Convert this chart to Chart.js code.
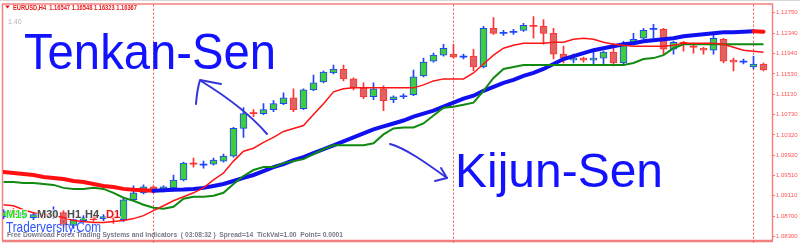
<!DOCTYPE html>
<html><head><meta charset="utf-8">
<script src="https://cdn.jsdelivr.net/npm/chart.js@4.4.1/dist/chart.umd.min.js"></script>
<style>html,body{margin:0;padding:0;background:#fff;overflow:hidden}canvas{display:block}</style>
</head><body>
<canvas id="c" width="800" height="244" style="width:800px;height:244px"></canvas>
<script>
// ---- data (EURUSD H4 bars) ----
const barIndex = Array.from({length: 77}, (_, i) => i);
const opens = [1.08697,1.08815,1.08717,1.08678,1.08756,1.08717,1.08776,1.08521,1.08619,1.08697,
  1.08658,1.08697,1.08639,1.09032,1.09170,1.09287,1.09209,1.09268,1.09425,1.09760,
  1.09720,1.09740,1.09799,1.09898,1.10448,1.10763,1.10743,1.10822,1.10940,1.11058,
  1.10842,1.11215,1.11372,1.11550,1.11629,1.11432,1.11254,1.11078,1.11235,1.11019,
  1.11078,1.11117,1.11491,1.11786,1.11904,1.11924,1.11865,1.11885,1.11668,1.12435,
  1.12337,1.12356,1.12396,1.12494,1.12475,1.12337,1.11924,1.11806,1.11845,1.11806,
  1.11845,1.11963,1.11747,1.12159,1.12238,1.12416,1.12416,1.12021,1.12159,1.12081,
  1.12041,1.12002,1.12219,1.11806,1.11766,1.11668,1.11727];
const highs = [1.08835,1.08855,1.08815,1.08776,1.08796,1.08894,1.08815,1.08678,1.08717,1.08737,
  1.08737,1.08756,1.09072,1.09307,1.09327,1.09307,1.09307,1.09524,1.09780,1.09859,
  1.09799,1.09859,1.09937,1.10468,1.10861,1.10822,1.10940,1.10999,1.11157,1.11235,
  1.11235,1.11510,1.11589,1.11707,1.11707,1.11451,1.11353,1.11353,1.11294,1.11098,
  1.11137,1.11609,1.11845,1.11944,1.12120,1.12120,1.11924,1.12021,1.12475,1.12651,
  1.12396,1.12416,1.12534,1.12671,1.12612,1.12435,1.12081,1.11924,1.11865,1.11983,
  1.11983,1.12140,1.12179,1.12337,1.12435,1.12514,1.12435,1.12179,1.12179,1.12120,
  1.12061,1.12317,1.12238,1.11845,1.11826,1.11885,1.11747];
const lows = [1.08658,1.08678,1.08658,1.08639,1.08658,1.08658,1.08482,1.08462,1.08580,1.08600,
  1.08619,1.08560,1.08600,1.09012,1.09150,1.09170,1.09190,1.09248,1.09405,1.09681,
  1.09661,1.09720,1.09780,1.09878,1.10271,1.10684,1.10723,1.10782,1.10920,1.10782,
  1.10822,1.11196,1.11353,1.11530,1.11392,1.11215,1.11039,1.11019,1.10802,1.10960,
  1.11039,1.11098,1.11471,1.11766,1.11885,1.11845,1.11826,1.11589,1.11648,1.12317,
  1.12297,1.12317,1.12376,1.12238,1.12120,1.11826,1.11747,1.11747,1.11766,1.11727,
  1.11727,1.11688,1.11727,1.12120,1.12219,1.12238,1.11924,1.11924,1.11983,1.11944,
  1.11924,1.11924,1.11747,1.11589,1.11727,1.11629,1.11589];
const closes = [1.08796,1.08737,1.08776,1.08737,1.08697,1.08796,1.08541,1.08639,1.08678,1.08639,
  1.08697,1.08658,1.09032,1.09170,1.09287,1.09190,1.09287,1.09425,1.09760,1.09740,
  1.09740,1.09819,1.09898,1.10448,1.10743,1.10743,1.10822,1.10940,1.11058,1.10822,
  1.11215,1.11353,1.11569,1.11629,1.11432,1.11254,1.11078,1.11235,1.10999,1.11078,
  1.11098,1.11471,1.11766,1.11904,1.12041,1.11865,1.11885,1.11668,1.12435,1.12337,
  1.12356,1.12376,1.12494,1.12475,1.12337,1.11924,1.11845,1.11845,1.11806,1.11845,
  1.11963,1.11747,1.12140,1.12219,1.12396,1.12435,1.12021,1.12159,1.12140,1.12061,
  1.12002,1.12238,1.11786,1.11766,1.11786,1.11727,1.11609];
const tenkanSen = [1.08934,1.08914,1.08835,1.08776,1.08737,1.08717,1.08678,1.08619,1.08600,1.08580,
  1.08580,1.08600,1.08619,1.08658,1.08717,1.08815,1.08914,1.09012,1.09091,1.09170,
  1.09268,1.09425,1.09563,1.09799,1.09996,1.10055,1.10173,1.10271,1.10389,1.10448,
  1.10507,1.10723,1.10940,1.11176,1.11235,1.11254,1.11254,1.11254,1.11254,1.11254,
  1.11254,1.11254,1.11313,1.11392,1.11432,1.11432,1.11432,1.11550,1.11727,1.11904,
  1.12041,1.12100,1.12140,1.12140,1.12140,1.12159,1.12159,1.12219,1.12238,1.12219,
  1.12159,1.12120,1.12100,1.12081,1.12081,1.12081,1.12081,1.12100,1.12140,1.12140,
  1.12140,1.12140,1.12120,1.12061,1.12002,1.11983,1.11963];
const kijunSen = [1.09386,1.09386,1.09366,1.09366,1.09346,1.09327,1.09268,1.09248,1.09248,1.09268,
  1.09248,1.09170,1.09072,1.09012,1.08934,1.08874,1.08855,1.08894,1.09052,1.09091,
  1.09091,1.09111,1.09170,1.09346,1.09504,1.09622,1.09681,1.09681,1.09760,1.09799,
  1.09839,1.09937,1.10035,1.10114,1.10114,1.10114,1.10114,1.10153,1.10330,1.10448,
  1.10468,1.10468,1.10547,1.10704,1.10861,1.10881,1.10920,1.10960,1.11196,1.11451,
  1.11629,1.11668,1.11707,1.11707,1.11707,1.11707,1.11707,1.11707,1.11707,1.11707,
  1.11707,1.11707,1.11707,1.11747,1.11826,1.11845,1.11904,1.12041,1.12120,1.12120,
  1.12120,1.12120,1.12120,1.12120,1.12120,1.12120,1.12120];
const trendMA = [1.09583,1.09563,1.09543,1.09524,1.09484,1.09465,1.09445,1.09405,1.09386,1.09346,
  1.09307,1.09287,1.09248,1.09229,1.09219,1.09209,1.09219,1.09229,1.09235,1.09248,
  1.09268,1.09307,1.09346,1.09405,1.09465,1.09524,1.09602,1.09681,1.09740,1.09819,
  1.09878,1.09957,1.10035,1.10114,1.10192,1.10271,1.10350,1.10429,1.10488,1.10547,
  1.10606,1.10684,1.10743,1.10802,1.10881,1.10960,1.11039,1.11098,1.11196,1.11274,
  1.11353,1.11412,1.11491,1.11550,1.11629,1.11727,1.11826,1.11885,1.11944,1.12002,
  1.12041,1.12081,1.12120,1.12140,1.12179,1.12199,1.12219,1.12238,1.12278,1.12297,
  1.12317,1.12337,1.12356,1.12360,1.12366,1.12376,1.12368];
const priceTicks = [1.12750,1.12340,1.11940,1.11530,1.11130,1.10730,1.10320,1.09920,1.09510,1.09110,1.08700,1.08300];
const periodSeparators = [15, 45, 75];
const headerText = 'EURUSD,H4  1.16547 1.16548 1.16323 1.16367';
const footerText = 'Free Download Forex Trading Systems and Indicators  ( 03:08:32 )  Spread=14  TickVal=1.00  Point= 0.0001';

// ---- styling ----
const BULL_EDGE = '#2244ff', BULL_FILL = '#3fcc3f';
const BEAR_EDGE = '#ff3333', BEAR_FILL = '#e26262';
const isBull = i => closes[i] >= opens[i];
const isCross = i => Math.abs(closes[i] - opens[i]) < 0.00025;
const edgeCol = i => isBull(i) ? BULL_EDGE : BEAR_EDGE;
const fillCol = i => isCross(i) ? edgeCol(i) : (isBull(i) ? BULL_FILL : BEAR_FILL);

const F = '"Liberation Sans", Arial, sans-serif';

const overlay = {
  id: 'overlay',
  beforeDatasetsDraw(chart) {
    const ctx = chart.ctx, a = chart.chartArea, xs = chart.scales.x;
    ctx.save();
    // frame
    ctx.strokeStyle = '#d8d8d8'; ctx.lineWidth = 1;
    ctx.beginPath(); ctx.moveTo(0, 0.5); ctx.lineTo(800, 0.5); ctx.stroke();
    ctx.strokeStyle = '#f28080'; ctx.lineWidth = 1.5;
    ctx.beginPath();
    ctx.moveTo(a.left - 0.5, a.bottom + 1); ctx.lineTo(a.left - 0.5, a.top - 0.5);
    ctx.lineTo(a.right + 0.5, a.top - 0.5); ctx.lineTo(a.right + 0.5, a.bottom + 1);
    ctx.stroke();
    ctx.lineWidth = 2.5;
    ctx.beginPath(); ctx.moveTo(a.left - 1, a.bottom + 1.5); ctx.lineTo(a.right + 1, a.bottom + 1.5); ctx.stroke();
    // period separators
    ctx.strokeStyle = '#ff5050'; ctx.lineWidth = 1; ctx.setLineDash([2, 2]);
    periodSeparators.forEach(i => {
      const x = xs.getPixelForValue(i);
      ctx.beginPath(); ctx.moveTo(x, a.top); ctx.lineTo(x, a.bottom + 3); ctx.stroke();
    });
    ctx.restore();
  },
  afterDraw(chart) {
    const ctx = chart.ctx;
    ctx.save();
    ctx.textBaseline = 'alphabetic'; ctx.textAlign = 'left';
    // header
    ctx.fillStyle = '#e81818';
    ctx.beginPath(); ctx.moveTo(5, 5.5); ctx.lineTo(10, 5.5); ctx.lineTo(7.5, 8.5); ctx.closePath(); ctx.fill();
    ctx.font = 'bold 6.5px ' + F;
    ctx.fillText(headerText, 13, 9.5, 124);
    ctx.fillStyle = '#b4b4b4'; ctx.font = '7px ' + F;
    ctx.fillText('1.40', 8, 23.5);
    // big labels
    ctx.fillStyle = '#1212ff';
    ctx.font = '50px ' + F;
    ctx.fillText('Tenkan-Sen', 24, 69, 252);
    ctx.font = '49px ' + F;
    ctx.fillText('Kijun-Sen', 455, 187, 208);
    // hand-drawn arrows
    ctx.strokeStyle = '#3434dc'; ctx.lineWidth = 2; ctx.lineCap = 'round'; ctx.lineJoin = 'round';
    ctx.beginPath();
    ctx.moveTo(267, 134);
    ctx.bezierCurveTo(255, 120, 232, 100, 201, 81);
    ctx.stroke();
    ctx.beginPath(); ctx.moveTo(196, 104); ctx.quadraticCurveTo(197, 90, 200, 80); ctx.lineTo(221, 84); ctx.stroke();
    ctx.beginPath();
    ctx.moveTo(390, 144);
    ctx.bezierCurveTo(405, 148, 425, 162, 447, 178);
    ctx.stroke();
    ctx.beginPath(); ctx.moveTo(441, 168); ctx.lineTo(447, 178); ctx.lineTo(435, 181); ctx.stroke();
    // timeframe row
    ctx.font = 'bold 11px ' + F;
    const tf = [['M15', 6, '#22e622'], ['M30', 37, '#4a4a4a'], ['H1', 67, '#4a4a4a'], ['H4', 85, '#4a4a4a'], ['D1', 106, '#ee1414']];
    tf.forEach(([t, x, c]) => {
      ctx.lineWidth = 2; ctx.strokeStyle = 'rgba(255,255,255,0.8)';
      ctx.strokeText(t, x, 218);
      ctx.fillStyle = c; ctx.fillText(t, x, 218);
    });
    ctx.fillStyle = '#2a52ff'; ctx.font = '15px ' + F;
    ctx.fillText('Traderversity.Com', 6, 231.5, 95);
    ctx.fillStyle = '#787888'; ctx.font = 'bold 7px ' + F;
    ctx.fillText(footerText, 7, 237, 336);
    ctx.restore();
  }
};

const xy = arr => arr.map((v, i) => ({x: barIndex[i], y: v}));

new Chart(document.getElementById('c'), {
  type: 'bar',
  data: {
    datasets: [
      { type: 'line', label: 'Tenkan-Sen', data: xy(tenkanSen), borderColor: '#ff1414', borderWidth: 1.5,
        pointRadius: 0, tension: 0, order: 0 },
      { type: 'line', label: 'Kijun-Sen', data: xy(kijunSen), borderColor: '#108a10', borderWidth: 2,
        pointRadius: 0, tension: 0, order: 0 },
      { type: 'line', label: 'MA', data: xy(trendMA), borderWidth: 4, borderColor: '#1010f0',
        pointRadius: 0, tension: 0, order: 0, borderCapStyle: 'round',
        segment: { borderColor: c => c.p1.parsed.y < c.p0.parsed.y ? '#ff1010' : '#1010f0' } },
      { label: 'body', data: barIndex.map(i => ({x: i, y: [opens[i], closes[i]]})),
        backgroundColor: c => fillCol(c.dataIndex), borderColor: c => edgeCol(c.dataIndex),
        borderWidth: c => isCross(c.dataIndex) ? 0 : 1, borderSkipped: false,
        barThickness: 7, grouped: false, order: 1 },
      { label: 'wick', data: barIndex.map(i => ({x: i, y: [lows[i], highs[i]]})),
        backgroundColor: c => edgeCol(c.dataIndex), borderWidth: 0,
        barThickness: 1, grouped: false, order: 2 }
    ]
  },
  options: {
    responsive: false, animation: false, devicePixelRatio: 1,
    layout: { padding: { left: 3, right: 0, top: 3, bottom: 4 } },
    plugins: { legend: { display: false }, tooltip: { enabled: false } },
    scales: {
      x: { type: 'linear', min: -0.05, max: 76.85, offset: false, display: false },
      y: {
        position: 'right', min: 1.08245, max: 1.12907,
        afterBuildTicks: s => { s.ticks = priceTicks.map(v => ({value: v})); },
        afterFit: s => { s.width = 28; },
        ticks: { callback: v => Number(v).toFixed(5), color: '#ff5555', padding: 1,
                 font: { family: 'Liberation Sans', size: 6 } },
        grid: { drawOnChartArea: false, drawTicks: true, tickLength: 3, tickColor: '#ff7070' },
        border: { display: false }
      }
    }
  },
  plugins: [overlay]
});
</script>
</body></html>
